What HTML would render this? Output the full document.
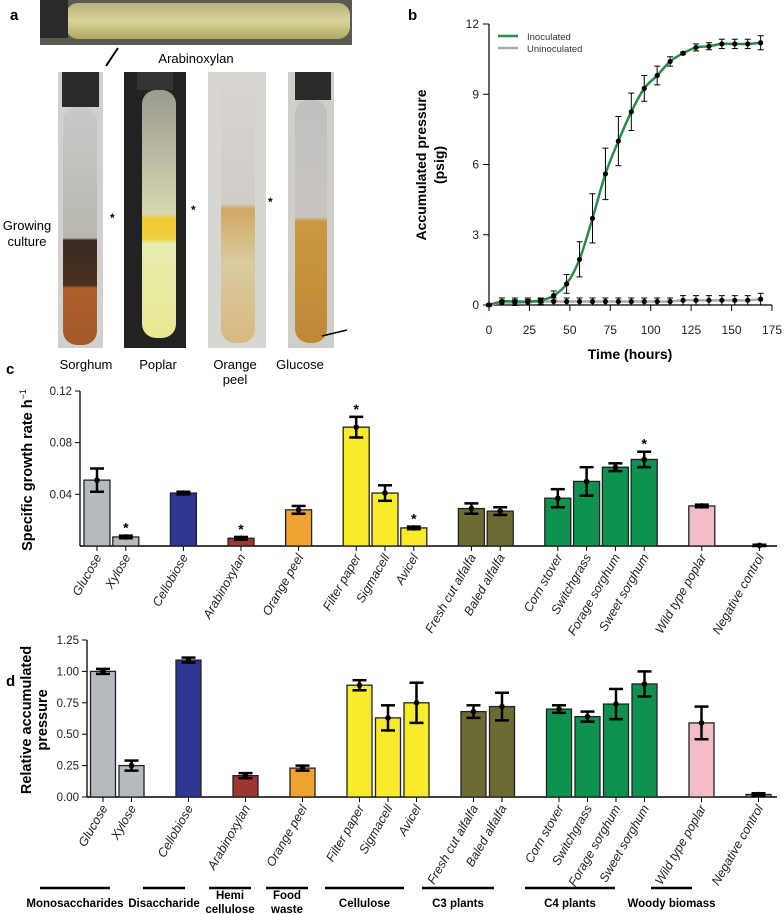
<!DOCTYPE html>
<html><head><meta charset="utf-8"><style>
body{margin:0;background:#fff;}
svg{display:block;font-family:"Liberation Sans",sans-serif;}
</style></head><body>
<svg id="fig" width="784" height="914" viewBox="0 0 784 914" xmlns="http://www.w3.org/2000/svg">
<defs>
<linearGradient id="gTop" x1="0" y1="0" x2="0" y2="1"><stop offset="0" stop-color="#b8b27a"/><stop offset="0.5" stop-color="#d8d49a"/><stop offset="1" stop-color="#b0a860"/></linearGradient>
<linearGradient id="gSor" x1="0" y1="0" x2="0" y2="1"><stop offset="0" stop-color="#c8c8c8"/><stop offset="0.55" stop-color="#b8b8b0"/><stop offset="0.56" stop-color="#3a2a22"/><stop offset="0.75" stop-color="#4a3020"/><stop offset="0.76" stop-color="#b0602a"/><stop offset="1" stop-color="#a05a28"/></linearGradient>
<linearGradient id="gPop" x1="0" y1="0" x2="0" y2="1"><stop offset="0" stop-color="#9a9a90"/><stop offset="0.5" stop-color="#d8d8b0"/><stop offset="0.52" stop-color="#f2c830"/><stop offset="0.6" stop-color="#f0d040"/><stop offset="0.62" stop-color="#e8ecb0"/><stop offset="1" stop-color="#e8e890"/></linearGradient>
<linearGradient id="gOra" x1="0" y1="0" x2="0" y2="1"><stop offset="0" stop-color="#d8d4d0"/><stop offset="0.48" stop-color="#d0ccc8"/><stop offset="0.5" stop-color="#d0a860"/><stop offset="0.7" stop-color="#d8cca0"/><stop offset="1" stop-color="#d8b880"/></linearGradient>
<linearGradient id="gGlu" x1="0" y1="0" x2="0" y2="1"><stop offset="0" stop-color="#c0c0c0"/><stop offset="0.48" stop-color="#c8c4c0"/><stop offset="0.5" stop-color="#c89a40"/><stop offset="1" stop-color="#c08838"/></linearGradient>
</defs>
<g id="panelA">
<text x="10" y="20" font-size="15" font-weight="bold">a</text>
<rect x="40" y="0" width="312" height="45" fill="#5a5a52"/>
<rect x="66" y="3" width="284" height="36" rx="12" fill="url(#gTop)"/>
<rect x="40" y="0" width="28" height="38" fill="#2a2a2a"/>
<line x1="106" y1="66" x2="118" y2="48" stroke="#000" stroke-width="2"/>
<text x="196" y="63" font-size="13" text-anchor="middle">Arabinoxylan</text>
<rect x="58" y="72" width="45" height="276" fill="#d0d0d0"/>
<rect x="62" y="72" width="37" height="35" fill="#2a2a2a"/>
<rect x="63" y="107" width="34" height="238" rx="14" fill="url(#gSor)"/>
<rect x="124" y="72" width="62" height="276" fill="#222"/>
<rect x="137" y="72" width="36" height="18" fill="#333"/>
<rect x="142" y="90" width="34" height="248" rx="14" fill="url(#gPop)"/>
<rect x="208" y="72" width="58" height="276" fill="#d8d6d2"/>
<rect x="221" y="75" width="34" height="268" rx="14" fill="url(#gOra)"/>
<rect x="288" y="72" width="46" height="276" fill="#d0cec8"/>
<rect x="295" y="72" width="36" height="28" fill="#2a2a2a"/>
<rect x="295" y="100" width="32" height="243" rx="14" fill="url(#gGlu)"/>
<line x1="322" y1="336" x2="347" y2="330" stroke="#000" stroke-width="1.5"/>
<text x="110" y="222" font-size="12" font-weight="bold">*</text>
<text x="191" y="214" font-size="12" font-weight="bold">*</text>
<text x="268" y="206" font-size="12" font-weight="bold">*</text>
<text x="27" y="230" font-size="13" text-anchor="middle"><tspan x="27">Growing</tspan><tspan x="27" dy="16">culture</tspan></text>
<text x="86" y="369" font-size="13" text-anchor="middle">Sorghum</text>
<text x="158" y="369" font-size="13" text-anchor="middle">Poplar</text>
<text x="235" y="369" font-size="13" text-anchor="middle"><tspan x="235">Orange</tspan><tspan x="235" dy="15">peel</tspan></text>
<text x="300" y="369" font-size="13" text-anchor="middle">Glucose</text>
</g>
<g id="panelB">
<text x="408" y="20" font-size="15" font-weight="bold">b</text>
</g>
<g id="panelC">
<text x="6" y="374" font-size="15" font-weight="bold">c</text>
</g>
<g id="panelD">
<text x="6" y="686" font-size="15" font-weight="bold">d</text>
</g>
</svg>
<script>
// ---- Panel b data ----
const timeHours = [0,8,16,24,32,40,48,56,64,72,80,88,96,104,112,120,128,136,144,152,160,168];
const inocMean = [0,0.15,0.15,0.15,0.2,0.4,0.9,1.95,3.7,5.6,7.0,8.25,9.25,9.8,10.4,10.75,11.0,11.05,11.15,11.15,11.15,11.2];
const inocErr = [0.05,0.15,0.15,0.15,0.1,0.2,0.4,0.75,1.05,1.1,1.05,0.8,0.55,0.4,0.2,0.05,0.15,0.15,0.2,0.2,0.2,0.3];
const uninocMean = [0,0.1,0.1,0.12,0.15,0.15,0.15,0.15,0.15,0.15,0.15,0.15,0.15,0.15,0.15,0.2,0.2,0.2,0.2,0.2,0.2,0.25];
const uninocErr = [0.05,0.1,0.12,0.12,0.12,0.15,0.15,0.15,0.15,0.15,0.15,0.15,0.15,0.15,0.15,0.2,0.2,0.2,0.2,0.2,0.2,0.25];
const bXTicks = [0,25,50,75,100,125,150,175];
const bYTicks = [0,3,6,9,12];
// ---- Panel c/d data ----
const categories = ["Glucose","Xylose","Cellobiose","Arabinoxylan","Orange peel","Filter paper","Sigmacell","Avicel","Fresh cut alfalfa","Baled alfalfa","Corn stover","Switchgrass","Forage sorghum","Sweet sorghum","Wild type poplar","Negative control"];
const slotIndex = [0,1,3,5,7,9,10,11,13,14,16,17,18,19,21,23];
const barColors = ["#b5babf","#b5babf","#2f3592","#9c3631","#f0a232","#f8ec2a","#f8ec2a","#f8ec2a","#6d6b34","#6d6b34","#0f9150","#0f9150","#0f9150","#0f9150","#f2bdc7","#888"];
const growthRate = [0.051,0.007,0.041,0.006,0.028,0.092,0.041,0.014,0.029,0.027,0.037,0.050,0.061,0.067,0.031,0.0005];
const growthErr = [0.009,0.001,0.001,0.001,0.003,0.008,0.006,0.001,0.004,0.003,0.007,0.011,0.003,0.006,0.001,0.0005];
const growthStar = [0,1,0,1,0,1,0,1,0,0,0,0,0,1,0,0];
const cYTicks = [0.04,0.08,0.12];
const relPressure = [1.00,0.25,1.09,0.17,0.23,0.89,0.63,0.75,0.68,0.72,0.70,0.64,0.74,0.90,0.59,0.02];
const relErr = [0.02,0.04,0.02,0.02,0.02,0.04,0.10,0.16,0.05,0.11,0.03,0.04,0.12,0.10,0.13,0.01];
const dYTicks = [0,0.25,0.5,0.75,1.0,1.25];
const groupNames = ["Monosaccharides","Disaccharide","Hemi|cellulose","Food|waste","Cellulose","C3 plants","C4 plants","Woody biomass"];

const NS="http://www.w3.org/2000/svg";
function mk(tag,attrs,parent,txt){const e=document.createElementNS(NS,tag);for(const k in attrs)e.setAttribute(k,attrs[k]);if(txt!==undefined)e.textContent=txt;parent.appendChild(e);return e;}

// Panel B
(function(){
const g=document.getElementById('panelB');
const x=t=>489+t*(283/175), y=v=>305-v*(281/12);
let e;
e=mk('line',{x1:489,y1:24,x2:489,y2:305,stroke:'#000','stroke-width':1.2},g);


e=mk('line',{x1:489,y1:305,x2:772,y2:305,stroke:'#000','stroke-width':1.2},g);


bXTicks.forEach(t=>{mk('line',{x1:x(t),y1:305,x2:x(t),y2:311,stroke:'#000'},g);
e=mk('text',{x:x(t),y:334,'font-size':12,'text-anchor':'middle',fill:'#222'},g,String(t));

});
bYTicks.forEach(v=>{mk('line',{x1:483,y1:y(v),x2:489,y2:y(v),stroke:'#000'},g);
e=mk('text',{x:479,y:y(v)+4,'font-size':12,'text-anchor':'end',fill:'#222'},g,String(v));

});
e=mk('text',{x:630,y:359,'font-size':14,'font-weight':'bold','text-anchor':'middle'},g,'Time (hours)');


e=mk('text',{transform:'translate(432,165) rotate(-90)','font-size':14,'font-weight':'bold','text-anchor':'middle'},g);
mk('tspan',{x:0,y:-6},e,'Accumulated pressure');mk('tspan',{x:0,y:12},e,'(psig)');


function smooth(ys){const p=timeHours.map((t,i)=>[x(t),y(ys[i])]);let d='M'+p[0][0]+','+p[0][1];
for(let i=0;i<p.length-1;i++){const p0=p[Math.max(0,i-1)],p1=p[i],p2=p[i+1],p3=p[Math.min(p.length-1,i+2)];
d+=' C'+(p1[0]+(p2[0]-p0[0])/6)+','+(p1[1]+(p2[1]-p0[1])/6)+' '+(p2[0]-(p3[0]-p1[0])/6)+','+(p2[1]-(p3[1]-p1[1])/6)+' '+p2[0]+','+p2[1];}return d;}
e=mk('path',{d:smooth(uninocMean),fill:'none',stroke:'#aaa','stroke-width':2.5},g);


e=mk('path',{d:smooth(inocMean),fill:'none',stroke:'#2a8a4a','stroke-width':2.5},g);


function pts(m,er,name){timeHours.forEach((t,i)=>{const cx=x(t);
const y1=y(m[i]+er[i]),y2=y(m[i]-er[i]);
mk('line',{x1:cx,y1:y1,x2:cx,y2:y2,stroke:'#000','stroke-width':1},g);
mk('line',{x1:cx-3,y1:y1,x2:cx+3,y2:y1,stroke:'#000'},g);
mk('line',{x1:cx-3,y1:y2,x2:cx+3,y2:y2,stroke:'#000'},g);
const c=mk('circle',{cx:cx,cy:y(m[i]),r:2.6,fill:'#000'},g);

});}
pts(uninocMean,uninocErr,'uninoculated-point');
pts(inocMean,inocErr,'inoculated-point');
mk('line',{x1:498,y1:36,x2:518,y2:36,stroke:'#2a8a4a','stroke-width':2.5},g);
e=mk('text',{x:527,y:40,'font-size':9.5,fill:'#333'},g,'Inoculated');


mk('line',{x1:498,y1:48,x2:518,y2:48,stroke:'#aaa','stroke-width':2.5},g);
e=mk('text',{x:527,y:52,'font-size':9.5,fill:'#333'},g,'Uninoculated');


})();

// Bar chart helper
function barChart(gid,vals,errs,stars,x0,step,bw,base,top,vmax,ticks,fmt,axisX0,axisX1,prefix){
const g=document.getElementById(gid);
const y=v=>base-v*(base-top)/vmax;
const cx=i=>x0+slotIndex[i]*step;
let e;
e=mk('line',{x1:axisX0,y1:top,x2:axisX0,y2:base,stroke:'#000','stroke-width':1.3},g);


e=mk('line',{x1:axisX0,y1:base,x2:axisX1,y2:base,stroke:'#000','stroke-width':1.5},g);


ticks.forEach(v=>{mk('line',{x1:axisX0-5,y1:y(v),x2:axisX0,y2:y(v),stroke:'#000'},g);
e=mk('text',{x:axisX0-8,y:y(v)+4,'font-size':11.5,'text-anchor':'end',fill:'#222'},g,fmt(v));

});
vals.forEach((v,i)=>{const c=cx(i);
if(i<vals.length-1||prefix==='d'){e=mk('rect',{x:c-bw/2,y:y(v),width:bw,height:base-y(v),fill:barColors[i],stroke:'#222','stroke-width':1.3},g);

}
const y1=y(v+errs[i]),y2=y(Math.max(0,v-errs[i]));
mk('line',{x1:c,y1:y1,x2:c,y2:y2,stroke:'#000','stroke-width':2.5},g);
mk('line',{x1:c-7,y1:y1,x2:c+7,y2:y1,stroke:'#000','stroke-width':2.5},g);
mk('line',{x1:c-7,y1:y2,x2:c+7,y2:y2,stroke:'#000','stroke-width':2.5},g);
mk('circle',{cx:c,cy:y(v),r:2.8,fill:'#000'},g);
mk('line',{x1:c,y1:base,x2:c,y2:base+5,stroke:'#000'},g);
if(stars&&stars[i]){e=mk('text',{x:c,y:y1-3,'font-size':14,'font-weight':'bold','text-anchor':'middle'},g,'*');

}
e=mk('text',{transform:'translate('+(c+5)+','+(base+11)+') rotate(-60)','font-size':12.5,'font-style':'italic','text-anchor':'end',fill:'#222'},g,categories[i]);


});
}
barChart('panelC',growthRate,growthErr,growthStar,97,28.8,26,546,391,0.12,cYTicks,v=>v.toFixed(2),80,777,'c');
barChart('panelD',relPressure,relErr,null,103,28.5,25,797,640,1.25,dYTicks,v=>v.toFixed(2),87,777,'d');
(function(){
const g=document.getElementById('panelC');
let e=mk('text',{transform:'translate(32,470) rotate(-90)','font-size':14.5,'font-weight':'bold','text-anchor':'middle'},g);
mk('tspan',{},e,'Specific growth rate h');mk('tspan',{dy:-6,'font-size':9,'font-weight':'normal'},e,'−1');


const d=document.getElementById('panelD');
e=mk('text',{transform:'translate(31,720) rotate(-90)','font-size':14.5,'font-weight':'bold','text-anchor':'middle'},d);
mk('tspan',{x:0,y:0},e,'Relative accumulated');mk('tspan',{x:0,y:16},e,'pressure');


const bx0=[40,143,209,266,325,422,525,651], bx1=[110,185,251,308,404,494,615,692];
groupNames.forEach((n,k)=>{const a=bx0[k],b=bx1[k],m=(a+b)/2;
let l=mk('line',{x1:a,y1:888,x2:b,y2:888,stroke:'#000','stroke-width':2.5},d);


const parts=n.split('|');
const t=mk('text',{x:m,y:parts.length>1?899:907,'font-size':11.5,'font-weight':'bold','text-anchor':'middle'},d);
parts.forEach((p,j)=>mk('tspan',{x:m,dy:j?14:0},t,p));

});
})();
</script>
</body></html>
